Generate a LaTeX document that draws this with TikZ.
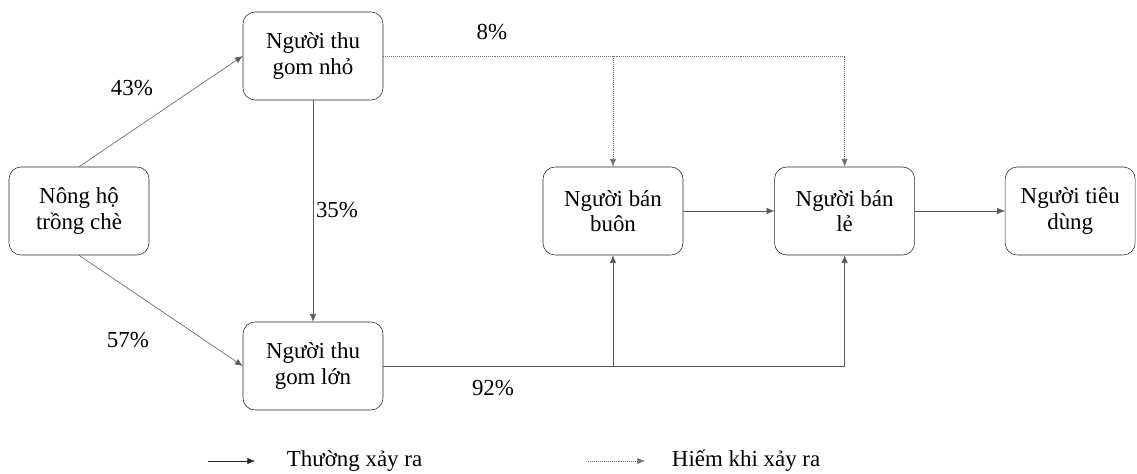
\documentclass[tikz,border=0pt]{standalone}
\usepackage{fontspec}
\setmainfont{LiberationSerif}[Extension=.ttf, UprightFont=*-Regular, BoldFont=*-Bold]
\usetikzlibrary{positioning, arrows.meta}
\tikzstyle{boxes} = [rectangle, rounded corners=0.3cm, minimum width=3.5cm, minimum height=2.2cm, align=center, draw=black!85, font=\fontsize{16.3}{18}\selectfont]
\tikzstyle{arrow} = [draw=black!65, -{Latex[length=5.5pt,width=4.5pt]}]
\tikzstyle{rare} = [draw=black!55, densely dotted, -{Latex[length=5.5pt,width=4.5pt]}]
\tikzstyle{share} = [font=\fontsize{16.3}{18}\selectfont]

\begin{document}
\begin{tikzpicture}[on grid]
    \useasboundingbox (0,0) rectangle (28.425,11.825);
    %Main Nodes
    \node (farmer) [boxes] at (1.975,6.55) {Nông hộ\\trồng chè};
    \node (smallCol) [boxes, above right=3.875cm and 5.85cm of farmer] {Người thu\\gom nhỏ};
    \node (largeCol) [boxes, below=7.75cm of smallCol] {Người thu\\gom lớn};
    \node (whole) [boxes, right=13.35cm of farmer] {Người bán\\buôn};
    \node (retail) [boxes, right=5.79cm of whole] {Người bán\\lẻ};
    \node (cons) [boxes, right=5.64cm of retail, minimum width=3.25cm] {Người tiêu\\dùng};

    %Shares
    \node (s43) [share] at (3.3,9.625) {43\%};
    \node (s35) [share] at (8.425,6.575) {35\%};
    \node (s8) [share] at (12.3,11.025) {8\%};
    \node (s57) [share] at (3.2,3.325) {57\%};
    \node (s92) [share] at (12.325,2.125) {92\%};

    %Arrows
    \draw [arrow] (farmer.north) -- (smallCol.west);
    \draw [arrow] (farmer.south) -- (largeCol.west);
    \draw [arrow] (smallCol) -- (largeCol);
    \draw [rare] (smallCol.east) -| (retail.north);
    \draw [rare] (smallCol.east -| whole.north) -- (whole.north);
    \draw [arrow] (largeCol.east) -| (retail.south);
    \draw [arrow] (largeCol.east -| whole.south) -- (whole.south);
    \draw [arrow] (whole) -- (retail);
    \draw [arrow] (retail) -- (cons);

    %Legend
    \coordinate (usualA) at (5.2,0.3);
    \coordinate (usualB) at (6.375,0.3);
    \coordinate (rareA) at (14.7,0.3);
    \coordinate (rareB) at (16.125,0.3);
    \draw [arrow, draw=black!85] (usualA) -- (usualB);
    \draw [rare] (rareA) -- (rareB);
    \node (usualTxt) [share, anchor=west] at (7.05,0.3) {Thường xảy ra};
    \node (rareTxt) [share, anchor=west] at (16.675,0.3) {Hiếm khi xảy ra};

\end{tikzpicture}
\end{document}
